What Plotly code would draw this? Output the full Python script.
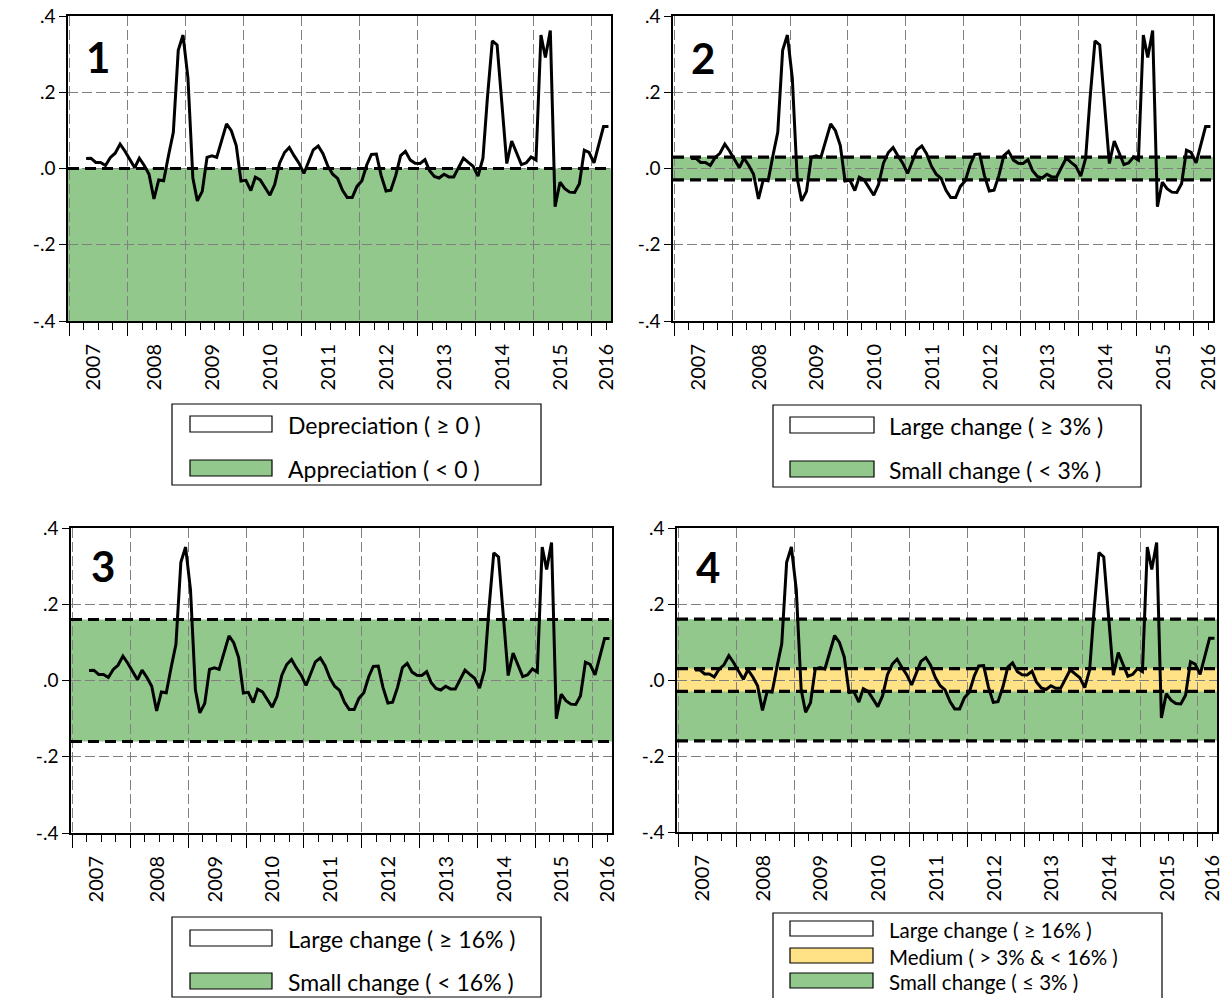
import plotly.graph_objects as go

# ---------------- data ----------------
# monthly observations, 2007M04 .. 2016M04 (plotted mid-month)
months = [f"{y}-{m:02d}-15" for y in range(2007, 2017) for m in range(1, 13)
          if (y, m) >= (2007, 4) and (y, m) <= (2016, 4)]

values = [
    0.026, 0.027, 0.016, 0.016, 0.008, 0.029, 0.040, 0.064, 0.046, 0.025,
    0.002, 0.027, 0.008, -0.015, -0.080, -0.030, -0.032, 0.035, 0.095, 0.310,
    0.350, 0.238, -0.025, -0.085, -0.060, 0.029, 0.033, 0.029, 0.072, 0.117,
    0.099, 0.060, -0.033, -0.031, -0.058, -0.023, -0.030, -0.048, -0.070, -0.042,
    0.014, 0.042, 0.055, 0.033, 0.014, -0.013, 0.017, 0.049, 0.059, 0.039,
    0.006, -0.015, -0.026, -0.057, -0.076, -0.076, -0.047, -0.032, 0.010, 0.037,
    0.038, -0.018, -0.059, -0.057, -0.018, 0.034, 0.045, 0.022, 0.014, 0.013,
    0.023, -0.005, -0.021, -0.025, -0.015, -0.022, -0.022, 0.001, 0.027, 0.016,
    0.006, -0.020, 0.027, 0.185, 0.335, 0.324, 0.175, 0.013, 0.072, 0.038,
    0.010, 0.015, 0.030, 0.022, 0.350, 0.291, 0.362, -0.100, -0.036, -0.053,
    -0.062, -0.063, -0.040, 0.048, 0.042, 0.015, 0.068, 0.110, 0.110,
]

year_labels = [str(y) for y in range(2007, 2017)]
ytick_vals = [-0.4, -0.2, 0.0, 0.2, 0.4]
ytick_text = ["-.4", "-.2", ".0", ".2", ".4"]

zero_threshold = 0.0
small_threshold = 0.03
large_threshold = 0.16
y_min, y_max = -0.4, 0.4

legend1 = ["Depreciation ( ≥ 0 )", "Appreciation ( < 0 )"]
legend2 = ["Large change ( ≥ 3% )", "Small change ( < 3% )"]
legend3 = ["Large change ( ≥ 16% )", "Small change ( < 16% )"]
legend4 = ["Large change ( ≥ 16% )", "Medium ( > 3% & < 16% )", "Small change ( ≤ 3% )"]

# ---------------- styling ----------------
W, H = 1230, 998
GREEN = "#92C88C"
YELLOW = "#FFE186"
GRID = "#808080"
FONT = "Lato"


def px(x):
    return x / W


def py(y):
    return 1 - y / H


panel_px = {1: (68, 611, 16, 321), 2: (673, 1213, 16, 321),
            3: (71, 612, 528, 833), 4: (677, 1217, 528, 832)}

bands = {
    1: [(y_min, zero_threshold, GREEN)],
    2: [(-small_threshold, small_threshold, GREEN)],
    3: [(-large_threshold, large_threshold, GREEN)],
    4: [(-large_threshold, large_threshold, GREEN), (-small_threshold, small_threshold, YELLOW)],
}
dash_lines = {
    1: [zero_threshold],
    2: [-small_threshold, small_threshold],
    3: [-large_threshold, large_threshold],
    4: [-large_threshold, large_threshold, -small_threshold, small_threshold],
}

x_range = ["2006-12-22", "2016-05-01"]
jan_ticks = [f"{y}-01-01" for y in range(2007, 2017)]
quarter_ticks = [f"{y}-{m:02d}-01" for y in range(2007, 2017) for m in (4, 7, 10)
                 if f"{y}-{m:02d}-01" < x_range[1]]
label_ticks = ["2007-06-01"] + [f"{y}-06-20" for y in range(2008, 2016)] + ["2016-04-01"]

fig = go.Figure()
shapes = []
annotations = []

for k in range(1, 5):
    x0, x1, y0, y1 = panel_px[k]
    xa = "x" if k == 1 else f"x{k}"
    ya = "y" if k == 1 else f"y{k}"
    lab = f"x{k + 4}"

    fig.add_trace(go.Scatter(x=months, y=values, mode="lines",
                             line=dict(color="black", width=3),
                             xaxis=xa, yaxis=ya, showlegend=False, hoverinfo="skip"))
    fig.add_trace(go.Scatter(x=[months[0]], y=[None], mode="lines",
                             xaxis=lab, yaxis=ya, showlegend=False, hoverinfo="skip"))

    common_x = dict(type="date", range=x_range, domain=[px(x0), px(x1)], anchor=ya,
                    automargin=False)
    fig.layout[f"xaxis{k if k > 1 else ''}"] = dict(
        **common_x,
        tickmode="array", tickvals=jan_ticks, showticklabels=False,
        ticks="outside", ticklen=13, tickwidth=1, tickcolor="black",
        showgrid=True, gridcolor=GRID, gridwidth=1, griddash="10px,4px",
        showline=True, linecolor="black", linewidth=1.5, mirror=True,
        zeroline=False,
        minor=dict(tickmode="array", tickvals=quarter_ticks, ticks="outside",
                   ticklen=7, tickwidth=1, tickcolor="black", showgrid=False),
    )
    fig.layout[f"xaxis{k + 4}"] = dict(
        **common_x, overlaying=xa, side="bottom",
        tickmode="array", tickvals=label_ticks, ticktext=year_labels,
        tickangle=-90, ticks="", ticklabelstandoff=18,
        tickfont=dict(family=FONT, size=20, color="black"),
        showgrid=False, showline=False, zeroline=False,
    )
    fig.layout[f"yaxis{k if k > 1 else ''}"] = dict(
        range=[y_min, y_max], domain=[py(y1), py(y0)], anchor=xa, automargin=False,
        tickmode="array", tickvals=ytick_vals, ticktext=ytick_text,
        ticks="outside", ticklen=7, tickwidth=1, tickcolor="black",
        tickfont=dict(family=FONT, size=19, color="black"),
        showgrid=True, gridcolor=GRID, gridwidth=1, griddash="10px,4px",
        showline=True, linecolor="black", linewidth=1.5, mirror=True,
        zeroline=False,
    )

    for lo, hi, col in bands[k]:
        shapes.append(dict(type="rect", xref=f"{xa} domain", yref=ya,
                           x0=0, x1=1, y0=lo, y1=hi, fillcolor=col,
                           line=dict(width=0), layer="below"))
    for yv in dash_lines[k]:
        shapes.append(dict(type="line", xref=f"{xa} domain", yref=ya,
                           x0=0, x1=1, y0=yv, y1=yv,
                           line=dict(color="black", width=3.2, dash="11px,6px"),
                           layer="above"))

# panel numbers
for num, (x, y) in {1: (84, 57), 2: (689, 58), 3: (89, 566), 4: (694, 567)}.items():
    annotations.append(dict(text=f"<b>{num}</b>", x=px(x), y=py(y), xref="paper", yref="paper",
                            xanchor="left", yanchor="middle", showarrow=False,
                            font=dict(family=FONT, size=42, color="black")))


def add_legend(box, swatch_x, rows, labels, colors, text_x, size):
    bx0, bx1, by0, by1 = box
    shapes.append(dict(type="rect", xref="paper", yref="paper",
                       x0=px(bx0), x1=px(bx1), y0=py(by1), y1=py(by0),
                       line=dict(color="black", width=1.2), fillcolor="rgba(0,0,0,0)"))
    for (ry0, ry1), lab, col in zip(rows, labels, colors):
        shapes.append(dict(type="rect", xref="paper", yref="paper",
                           x0=px(swatch_x[0]), x1=px(swatch_x[1]), y0=py(ry1), y1=py(ry0),
                           line=dict(color="black", width=1.2), fillcolor=col))
        annotations.append(dict(text=lab, x=px(text_x), y=py((ry0 + ry1) / 2 + 1),
                                xref="paper", yref="paper", xanchor="left", yanchor="middle",
                                showarrow=False, font=dict(family=FONT, size=size, color="black")))


add_legend((172, 541, 404, 485), (190, 272), [(416, 432), (460, 476)], legend1,
           ["white", GREEN], 286, 23)
add_legend((773, 1141, 405, 487), (790, 874), [(417, 433), (461, 477)], legend2,
           ["white", GREEN], 887, 23)
add_legend((172, 541, 917, 997), (190, 272), [(930, 946), (973, 989)], legend3,
           ["white", GREEN], 286, 23)
add_legend((773, 1162, 913, 1004), (790, 873), [(921, 936), (948, 963), (973, 988)], legend4,
           ["white", YELLOW, GREEN], 887, 20.5)

fig.update_layout(
    width=W, height=H, autosize=False,
    margin=dict(l=0, r=0, t=0, b=0, pad=0, autoexpand=False),
    paper_bgcolor="white", plot_bgcolor="white",
    font=dict(family=FONT, color="black"),
    shapes=shapes, annotations=annotations, showlegend=False,
)

fig.write_html("out.html", config={"displayModeBar": False},
               post_script="document.body.style.margin='0';")
